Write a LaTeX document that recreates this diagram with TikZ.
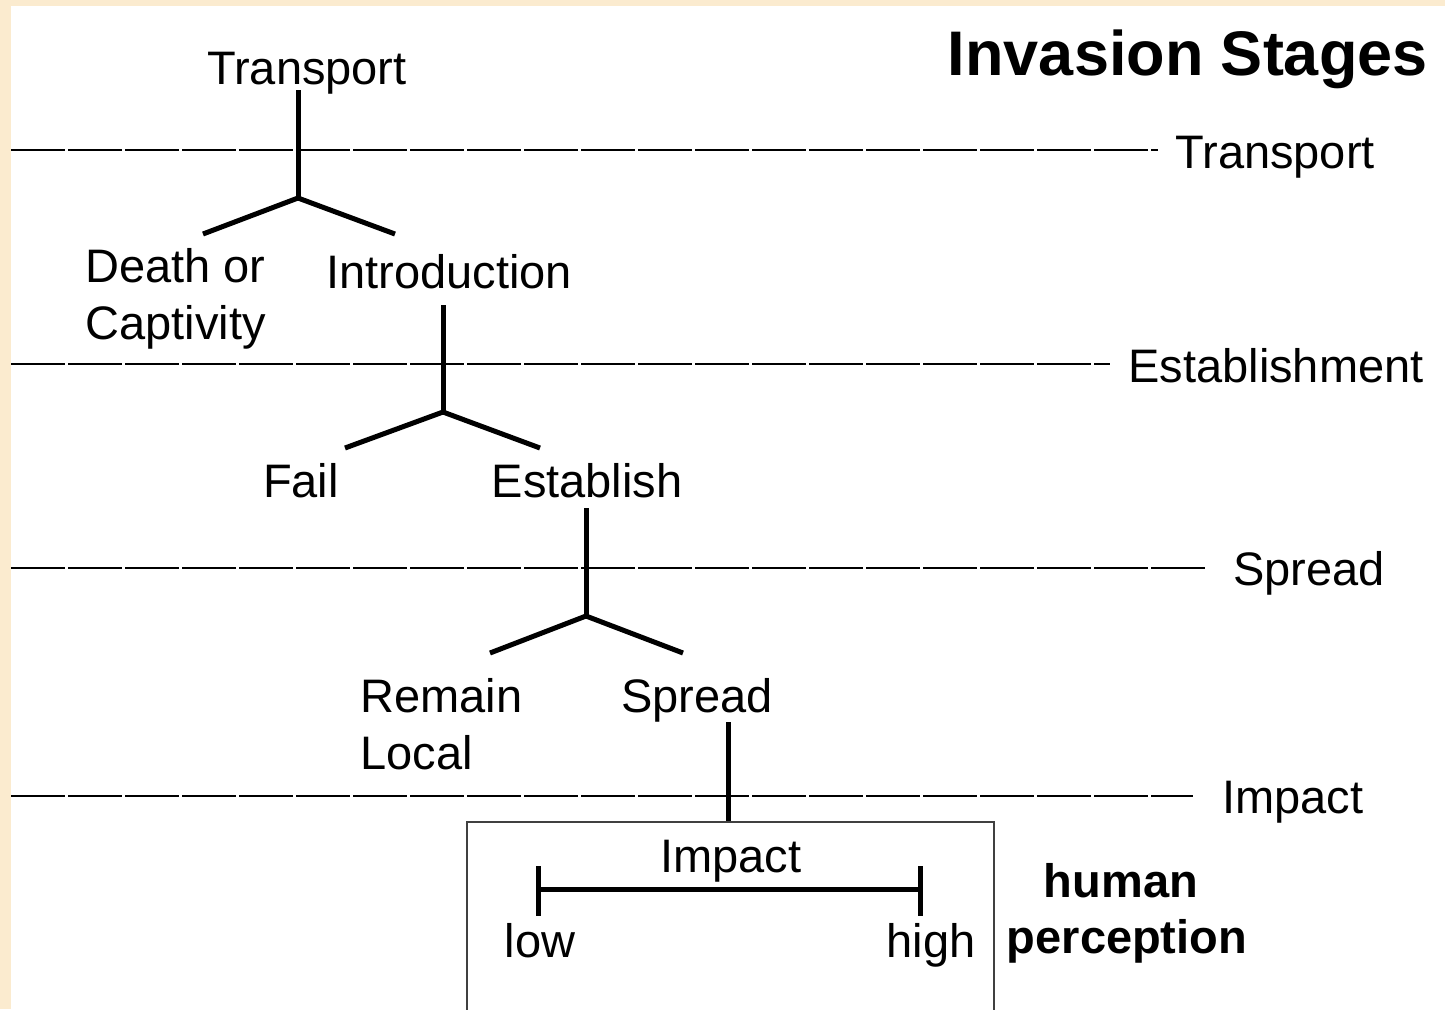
\documentclass[tikz,border=0pt]{standalone}
\usepackage{fontspec}
\setmainfont{Liberation Sans}
\definecolor{paper}{HTML}{FBEBCF}
\definecolor{boxgray}{HTML}{404040}

\begin{document}
\begin{tikzpicture}[x=0.5pt,y=-0.5pt]
\tikzstyle{every node}+=[inner sep=0pt,font=\fontsize{23.5}{28.5}\selectfont]
\tikzstyle{stageline}=[line width=1pt,dash pattern=on 27pt off 1.5pt]
\tikzstyle{branch}=[line width=2.5pt]
\tikzstyle{lbl}=[anchor=base]
\tikzstyle{stagelbl}=[anchor=base west]
\fill [paper] (0,0) rectangle (1445,1009);
\fill [white] (11,6) rectangle (1445,1009);
\useasboundingbox (0,0) rectangle (1445,1009);
\node [anchor=base east,font=\fontsize{31.5}{36}\selectfont\bfseries] (title) at (1428,75) {Invasion Stages};
\node [stagelbl] (stTransport) at (1175,168) {Transport};
\node [stagelbl] (stEstablish) at (1128,382) {Establishment};
\node [stagelbl] (stSpread) at (1233,585) {Spread};
\node [stagelbl] (stImpact) at (1222,813) {Impact};
\coordinate (s1) at (11,150);
\coordinate (s2) at (11,364);
\coordinate (s3) at (11,568);
\coordinate (s4) at (11,796);
\draw [stageline,shorten >=8.5pt] (s1) -- (s1 -| stTransport.west);
\draw [stageline,shorten >=9pt] (s2) -- (s2 -| stEstablish.west);
\draw [stageline,shorten >=14pt] (s3) -- (s3 -| stSpread.west);
\draw [stageline,shorten >=14.5pt] (s4) -- (s4 -| stImpact.west);
\node [lbl] (transport) at (307,84) {Transport};
\node [anchor=north west,align=left] (death) at (85,248) {Death or\\Captivity};
\node [lbl] (intro) at (449,288) {Introduction};
\node [lbl] (fail) at (301,497) {Fail};
\node [lbl] (establish) at (587,497) {Establish};
\node [anchor=north west,align=left] (remain) at (360,678) {Remain\\Local};
\node [lbl] (spread) at (697,712) {Spread};
\coordinate (a0) at (298,90);
\coordinate (a1) at (298,198);
\coordinate (aL) at (203,234);
\coordinate (aR) at (395,234);
\draw [branch] (a0) -- (a1);
\draw [branch] (aL) -- (a1) -- (aR);
\coordinate (b0) at (443,305);
\coordinate (b1) at (443,412);
\coordinate (bL) at (345,448);
\coordinate (bR) at (540,448);
\draw [branch] (b0) -- (b1);
\draw [branch] (bL) -- (b1) -- (bR);
\coordinate (c0) at (586,508);
\coordinate (c1) at (586,616);
\coordinate (cL) at (490,653);
\coordinate (cR) at (683,653);
\draw [branch] (c0) -- (c1);
\draw [branch] (cL) -- (c1) -- (cR);
\node [draw=boxgray,line width=0.8pt,anchor=north west,minimum width=263.5pt,minimum height=120pt] (impbox) at (466,821) {};
\coordinate (d0) at (728,722);
\draw [branch] (d0) -- (d0 |- impbox.north);
\node [lbl] (impact) at (731,872) {Impact};
\coordinate (low) at (538,889);
\coordinate (high) at (920,889);
\draw [branch] (low) -- (high);
\draw [branch] ([yshift=11.5pt]low) -- ([yshift=-13.5pt]low);
\draw [branch] ([yshift=11.5pt]high) -- ([yshift=-13.5pt]high);
\node [lbl] (lowlbl) at (540,957) {low};
\node [lbl] (highlbl) at (931,957) {high};
\node [lbl,font=\fontsize{23.5}{28.5}\selectfont\bfseries] (human) at (1121,897) {human};
\node [lbl,font=\fontsize{23.5}{28.5}\selectfont\bfseries] (percep) at (1127,953) {perception};
\end{tikzpicture}
\end{document}
